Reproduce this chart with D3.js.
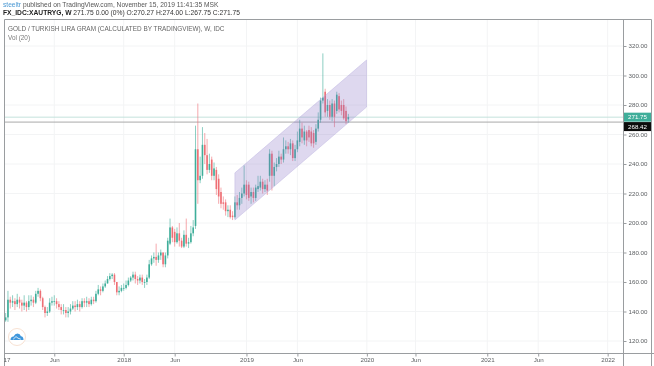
<!DOCTYPE html>
<html>
<head>
<meta charset="utf-8">
<script src="https://cdnjs.cloudflare.com/ajax/libs/d3/7.8.5/d3.min.js"></script>
<style>
  html, body { margin: 0; padding: 0; background: #fff; overflow: hidden; }
  text { font-family: "Liberation Sans", sans-serif; }
  svg { filter: blur(0.3px); }
</style>
</head>
<body>
<div id="chart"></div>
<script>
// Weekly bars
const firstWeek = new Date(2017, 0, 9);
const lastWeek = new Date(2019, 10, 12);

const opens = [
    134,136,148,146,147,145,148,146,144,146,
    143,147,148,146,152,154,149,143,139,140,
    146,147,147,145,143,141,141,139,140,142,
    144,143,145,143,147,146,147,145,148,147,
    152,155,154,157,159,162,164,165,160,153,
    154,156,156,158,161,163,165,162,161,163,
    160,160,163,172,176,177,175,178,180,172,
    178,186,197,194,187,193,188,184,192,186,
    187,193,198,250,229,232,253,246,236,243,
    232,236,230,221,214,214,208,209,205,204,
    214,212,217,220,226,226,218,221,217,223,
    224,228,223,226,232,247,232,238,240,245,
    243,250,252,250,254,244,250,255,264,256,
    262,263,262,261,255,264,270,283,289,276,
    280,272,281,276,286,280,280,276,270.27
];
const closes = [
    136,148,146,147,145,148,146,144,146,143,
    147,148,146,152,154,149,143,139,140,146,
    147,147,145,143,141,141,139,140,142,144,
    143,145,143,147,146,147,145,148,147,152,
    155,154,157,159,162,164,165,160,153,154,
    156,156,158,161,163,165,162,161,163,160,
    160,163,172,176,177,175,178,180,172,178,
    188,197,190,187,193,188,184,192,186,187,
    193,197,250,229,232,253,246,236,240,232,
    237,223,218,213,213,208,209,204,204,214,
    212,217,220,226,219,217,221,217,224,225,
    228,223,226,222,247,232,238,240,245,243,
    250,252,250,254,244,250,256,264,258,262,
    256,258,254,254,264,270,283,285,275,280,
    272,281,272,287,277,276,271,269,271.75
];
const highs = [
    139,154,150,151,149,152,150,148,151,147,
    151,151,150,154,156,155,150,144,143,149,
    150,151,149,147,145,145,143,143,145,147,
    147,148,147,149,149,150,149,150,150,154,
    158,157,159,161,164,166,166,166,160,157,
    158,159,161,163,164,167,167,164,165,165,
    162,165,175,178,180,186,180,182,180,180,
    190,203,198,196,197,200,190,195,203,190,
    198,202,266,281,245,265,261,257,247,245,
    241,238,233,224,218,216,212,212,208,218,
    219,221,224,239,229,228,224,224,226,232,
    232,230,229,230,250,249,241,244,249,247,
    258,256,255,257,256,253,262,270,268,266,
    263,266,265,263,267,275,285,315,291,284,
    283,284,283,289,288,283,284,279,274
];
const lows = [
    133,133,142,143,141,143,142,140,141,140,
    141,144,143,145,150,147,141,136,137,139,
    144,144,142,141,138,138,136,136,138,141,
    140,141,140,142,143,143,143,144,145,146,
    151,151,153,156,159,161,162,158,151,151,
    153,154,155,157,160,161,159,158,159,158,
    156,158,162,171,173,171,173,175,170,170,
    176,185,187,184,186,184,183,183,184,183,
    186,191,196,213,227,230,240,233,234,229,
    229,219,213,210,209,205,204,203,202,203,
    209,209,213,218,216,215,213,214,215,221,
    222,220,221,219,228,222,225,235,238,240,
    241,247,247,246,242,242,248,252,254,253,
    252,255,252,251,253,262,268,281,272,272,
    270,269,265,274,275,273,270,267,267.75
];

// Price axis and time axis labels
const priceTicks = [120, 140, 160, 180, 200, 220, 240, 260, 280, 300, 320];
const timeTicks = [
    new Date(2017, 0, 1), new Date(2017, 5, 5), new Date(2018, 0, 1), new Date(2018, 5, 4),
    new Date(2019, 0, 7), new Date(2019, 5, 10), new Date(2020, 0, 6), new Date(2020, 5, 1),
    new Date(2021, 0, 4), new Date(2021, 5, 7), new Date(2022, 0, 3)
];
const timeLabels = ['2017', 'Jun', '2018', 'Jun', '2019', 'Jun', '2020', 'Jun', '2021', 'Jun', '2022'];

// Parallel channel drawn on the chart
const channelDates = [new Date(2018, 11, 3), new Date(2020, 0, 5)];
const channelUpper = [234, 310.5];
const channelLower = [202, 278.6];

// Price lines with their badges
const lastPrice = 271.75;
const otherPrice = 268.42;

const weeks = d3.timeMonday.range(firstWeek, lastWeek);
const green = '#3fae9a';
const red = '#ee6f75';

const svg = d3.select('#chart')
    .append('svg')
    .attr('width', 654)
    .attr('height', 366);

const x = d3.scaleTime()
    .domain([new Date(2017, 0, 1), new Date(2022, 0, 1)])
    .range([3, 607]);

const y = d3.scaleLinear()
    .domain([120, 320])
    .range([341, 46]);

svg.append('clipPath').attr('id', 'plot')
    .append('rect')
    .attr('x', 4).attr('y', 19).attr('width', 619).attr('height', 334);

const plot = svg.append('g').attr('clip-path', 'url(#plot)');

// Grid
plot.selectAll('.vgrid')
    .data(timeTicks)
    .enter().append('line')
    .attr('x1', d => x(d)).attr('x2', d => x(d))
    .attr('y1', 19).attr('y2', 353)
    .attr('stroke', '#f3f4f5');

plot.selectAll('.hgrid')
    .data(priceTicks)
    .enter().append('line')
    .attr('x1', 4).attr('x2', 623)
    .attr('y1', d => y(d)).attr('y2', d => y(d))
    .attr('stroke', '#f3f4f5');

// Price lines
plot.append('line')
    .attr('x1', 4).attr('x2', 623)
    .attr('y1', y(lastPrice)).attr('y2', y(lastPrice))
    .attr('stroke', '#c4e2dc');

plot.append('line')
    .attr('x1', 4).attr('x2', 623)
    .attr('y1', y(otherPrice)).attr('y2', y(otherPrice))
    .attr('stroke', '#a9a9a9');

// Candles
plot.selectAll('.wick')
    .data(weeks)
    .enter().append('line')
    .attr('x1', d => x(d)).attr('x2', d => x(d))
    .attr('y1', (d, i) => y(highs[i]))
    .attr('y2', (d, i) => y(lows[i]))
    .attr('stroke', (d, i) => closes[i] >= opens[i] ? green : red)
    .attr('stroke-opacity', 0.75)
    .attr('stroke-width', 0.8);

plot.selectAll('.body')
    .data(weeks)
    .enter().append('rect')
    .attr('x', d => x(d) - 0.8)
    .attr('width', 1.6)
    .attr('y', (d, i) => y(Math.max(opens[i], closes[i])))
    .attr('height', (d, i) => Math.max(0.8, Math.abs(y(opens[i]) - y(closes[i]))))
    .attr('fill', (d, i) => closes[i] >= opens[i] ? green : red);

// Channel
const channelArea = d3.area()
    .x(d => x(d))
    .y0((d, i) => y(channelLower[i]))
    .y1((d, i) => y(channelUpper[i]));

plot.append('path')
    .datum(channelDates)
    .attr('d', channelArea)
    .attr('fill', '#8470c4')
    .attr('fill-opacity', 0.27)
    .attr('stroke', '#b3a8dc')
    .attr('stroke-width', 0.4);

// Frame
const frame = '#9a9da0';
[[4, 19, 651, 19], [4, 19, 4, 366], [623, 19, 623, 366], [651, 19, 651, 366], [4, 353, 654, 353]].forEach(p => {
    svg.append('line')
        .attr('x1', p[0] + 0.5).attr('y1', p[1] + 0.5)
        .attr('x2', p[2] + 0.5).attr('y2', p[3] + 0.5)
        .attr('stroke', frame);
});

// Axes
const priceAxis = svg.append('g')
    .attr('transform', 'translate(623.5, 0)')
    .call(d3.axisRight(y).tickValues(priceTicks).tickFormat(d3.format('.2f')).tickSize(3).tickPadding(2));

const timeAxis = svg.append('g')
    .attr('clip-path', 'url(#timeclip)')
    .attr('transform', 'translate(0, 353.5)')
    .call(d3.axisBottom(x).tickValues(timeTicks).tickFormat((d, i) => timeLabels[i]).tickSize(3).tickPadding(1.5));

svg.append('clipPath').attr('id', 'timeclip')
    .append('rect')
    .attr('x', 4).attr('y', -2).attr('width', 619).attr('height', 16);

[priceAxis, timeAxis].forEach(a => {
    a.select('.domain').remove();
    a.selectAll('line').attr('stroke', frame);
    a.selectAll('text')
        .attr('fill', '#5d6063')
        .style('font-size', '6.2px');
});

// Price badges
svg.append('rect')
    .attr('x', 624).attr('y', y(lastPrice) - 4.5)
    .attr('width', 27).attr('height', 9)
    .attr('fill', green);

svg.append('text')
    .attr('x', 628).attr('y', y(lastPrice) + 2.2)
    .attr('fill', '#fff')
    .style('font-size', '6.2px')
    .text(d3.format('.2f')(lastPrice));

svg.append('rect')
    .attr('x', 624).attr('y', y(otherPrice))
    .attr('width', 27).attr('height', 9)
    .attr('fill', '#0c0c0c');

svg.append('text')
    .attr('x', 628).attr('y', y(otherPrice) + 6.7)
    .attr('fill', '#fff')
    .style('font-size', '6.2px')
    .text(d3.format('.2f')(otherPrice));

// Header text
const head = svg.append('text')
    .attr('x', 3).attr('y', 6.5)
    .style('font-size', '6.65px')
    .attr('fill', '#555');
head.append('tspan').attr('fill', '#4a98d3').text('steeltr');
head.append('tspan').text(' published on TradingView.com, November 15, 2019 11:41:35 MSK');

const symbol = svg.append('text')
    .attr('x', 3).attr('y', 14.5)
    .style('font-size', '6.7px')
    .attr('fill', '#333');
symbol.append('tspan').attr('font-weight', 'bold').attr('fill', '#222').text('FX_IDC:XAUTRYG, W');
symbol.append('tspan').text(' 271.75 0.00 (0%) O:270.27 H:274.00 L:267.75 C:271.75');

svg.append('text')
    .attr('x', 8).attr('y', 30.5)
    .style('font-size', '6.4px')
    .attr('fill', '#666')
    .text('GOLD / TURKISH LIRA GRAM (CALCULATED BY TRADINGVIEW), W, IDC');

svg.append('text')
    .attr('x', 8).attr('y', 40)
    .style('font-size', '6.4px')
    .attr('fill', '#777')
    .text('Vol (20)');

// Logo in the lower left corner
const logo = svg.append('g').attr('transform', 'translate(17, 337)');

logo.append('circle')
    .attr('r', 8.5)
    .attr('fill', '#fff')
    .attr('stroke', '#f5d9c6')
    .attr('stroke-width', 0.8);

logo.append('path')
    .attr('d', 'M-6.5 3 Q-6.5 -0.5 -3.4 -0.5 Q-2 -3.4 0.5 -3.4 Q3.2 -3.4 3.9 -0.7 Q6.5 -0.4 6.5 3 Z')
    .attr('fill', '#3f97dc');

logo.append('path')
    .attr('d', 'M-3.8 2.2 L-1 -0.4 L1 1.2 L3.8 2.2')
    .attr('fill', 'none')
    .attr('stroke', '#fff')
    .attr('stroke-width', 0.8);
</script>
</body>
</html>
